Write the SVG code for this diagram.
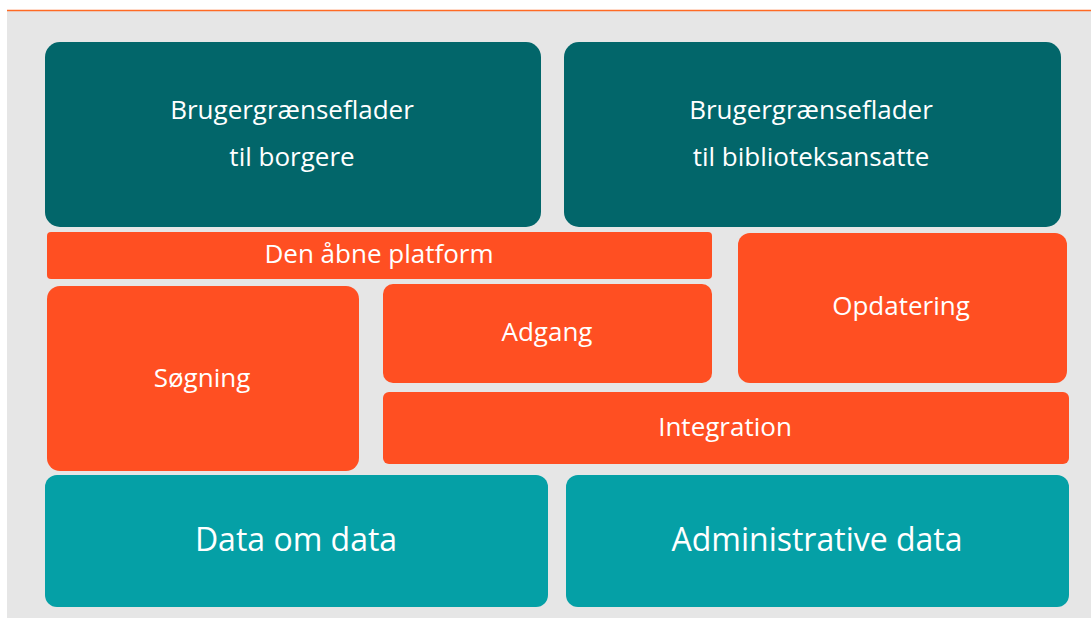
<svg xmlns="http://www.w3.org/2000/svg" width="1091" height="618" viewBox="0 0 1091 618">
<style>
.dk{fill:#02666A}
.or{fill:#FF4F22}
.lt{fill:#05A0A6}
text{fill:#FFFFFF;font-family:"Open Sans","Liberation Sans",sans-serif;text-anchor:middle}
.t1{font-size:26px}
.t2{font-size:32px}
</style>
<rect x="0" y="0" width="1091" height="618" fill="#FFFFFF"/>
<rect x="7" y="11" width="1084" height="607" fill="#E6E6E6"/>
<line x1="7" y1="10.5" x2="1091" y2="10.5" stroke="#FF6A24" stroke-width="1.5"/>
<g id="node-ui-borgere"><rect class="dk" x="45" y="42" width="496" height="185" rx="15"/><text class="t1" x="292" y="119">Brugergrænseflader</text><text class="t1" x="292" y="166">til borgere</text></g>
<g id="node-ui-bibliotek"><rect class="dk" x="564" y="42" width="497" height="185" rx="15"/><text class="t1" x="811" y="119">Brugergrænseflader</text><text class="t1" x="811" y="166">til biblioteksansatte</text></g>
<g id="node-platform"><rect class="or" x="47" y="232" width="665" height="47" rx="4"/><text class="t1" x="379" y="263">Den åbne platform</text></g>
<g id="node-sogning"><rect class="or" x="47" y="286" width="312" height="185" rx="13"/><text class="t1" x="202" y="387">Søgning</text></g>
<g id="node-adgang"><rect class="or" x="383" y="284" width="329" height="99" rx="10"/><text class="t1" x="547" y="341">Adgang</text></g>
<g id="node-opdatering"><rect class="or" x="738" y="233" width="329" height="150" rx="12"/><text class="t1" x="901" y="315">Opdatering</text></g>
<g id="node-integration"><rect class="or" x="383" y="392" width="686" height="72" rx="6"/><text class="t1" x="725" y="436">Integration</text></g>
<g id="node-data-om-data"><rect class="lt" x="45" y="475" width="503" height="132" rx="12"/><text class="t2" x="296" y="551">Data om data</text></g>
<g id="node-admin-data"><rect class="lt" x="566" y="475" width="503" height="132" rx="12"/><text class="t2" x="817" y="551">Administrative data</text></g>
<g id="connectors"></g>
</svg>
